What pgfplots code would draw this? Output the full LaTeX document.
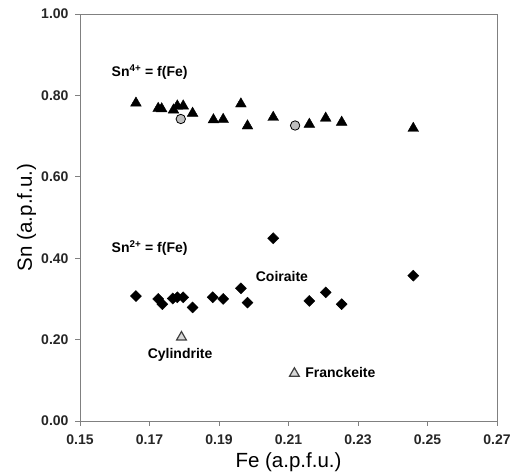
\documentclass[border=0pt]{standalone}
\usepackage{pgfplots}
\pgfplotsset{compat=1.18}
\usepackage{fontspec}
\setmainfont{Liberation Sans}
\usetikzlibrary{calc}

\definecolor{axgray}{RGB}{128,128,128}
\definecolor{ptgray}{RGB}{190,190,190}

\begin{document}
\begin{tikzpicture}
\begin{axis}[
    scale only axis,
    width=417pt, height=407pt,
    xmin=0.15, xmax=0.27,
    ymin=0, ymax=1.0,
    xtick={0.15,0.17,0.19,0.21,0.23,0.25,0.27},
    xticklabels={0.15,0.17,0.19,0.21,0.23,0.25,0.27},
    ytick={0,0.2,0.4,0.6,0.8,1.0},
    yticklabels={0.00,0.20,0.40,0.60,0.80,1.00},
    xtick pos=bottom, ytick pos=left,
    tick align=outside,
    major tick length=5pt,
    axis line style={axgray, line width=0.9pt},
    every tick/.style={axgray, line width=0.9pt},
    tick label style={font=\bfseries\fontsize{14}{16}\selectfont, text=black!85},
    xticklabel style={yshift=-5pt},
    yticklabel style={xshift=-3pt},
    clip=false,
]
% Sn4+ (filled triangles)
\addplot[only marks, mark=triangle*, mark size=6.2pt, mark options={fill=black, draw=black}] coordinates {
    (0.1661,0.781) (0.1725,0.768) (0.1735,0.767) (0.1769,0.764)
    (0.1780,0.774) (0.1797,0.774) (0.1824,0.756) (0.1884,0.740)
    (0.1912,0.741) (0.1963,0.779) (0.1982,0.725) (0.2056,0.746)
    (0.2160,0.729) (0.2207,0.744) (0.2253,0.734) (0.2459,0.719)
};
% Sn2+ (filled diamonds)
\addplot[only marks, mark=square*, mark size=3.9pt, mark options={fill=black, draw=black, rotate=45}] coordinates {
    (0.1661,0.307) (0.1725,0.300) (0.1737,0.287) (0.1767,0.301)
    (0.1780,0.304) (0.1797,0.304) (0.1824,0.279) (0.1882,0.304)
    (0.1912,0.300) (0.1963,0.326) (0.1982,0.291) (0.2056,0.449)
    (0.2160,0.295) (0.2207,0.316) (0.2253,0.287) (0.2459,0.357)
};
% gray circles
\addplot[only marks, mark=*, mark size=4.7pt, mark options={fill=ptgray, draw=black, line width=0.8pt}] coordinates {
    (0.1790,0.742) (0.2119,0.726)
};
% open triangles (cylindrite, franckeite)
\addplot[only marks, mark=triangle*, mark size=5.6pt, mark options={fill=ptgray!60, draw=black!75, line width=1.2pt}] coordinates {
    (0.1792,0.206) (0.2117,0.117)
};
\node[anchor=west, font=\bfseries\fontsize{14}{16}\selectfont] at (axis cs:0.1581,0.857) {Sn\textsuperscript{4+} = f(Fe)};
\node[anchor=west, font=\bfseries\fontsize{14}{16}\selectfont] at (axis cs:0.1581,0.425) {Sn\textsuperscript{2+} = f(Fe)};
\node[anchor=center, font=\bfseries\fontsize{14}{16}\selectfont] at (axis cs:0.2081,0.356) {Coiraite};
\node[anchor=center, font=\bfseries\fontsize{14}{16}\selectfont] at (axis cs:0.1788,0.162) {Cylindrite};
\node[anchor=west, font=\bfseries\fontsize{14}{16}\selectfont, inner sep=0pt] at (axis cs:0.2148,0.118) {Franckeite};
% axis labels
\node[anchor=base, inner sep=0pt, font=\fontsize{20.5}{22}\selectfont] at ([yshift=-47pt]rel axis cs:0.5,0) {Fe (a.p.f.u.)};
\node[anchor=base, inner sep=0pt, rotate=90, font=\fontsize{20.5}{22}\selectfont] at ([xshift=-48pt]rel axis cs:0,0.5) {Sn (a.p.f.u.)};
\end{axis}
\pgfresetboundingbox
\path ($(current axis.south west)+(-80pt,-54pt)$) rectangle ($(current axis.north east)+(16pt,14pt)$);
\end{tikzpicture}
\end{document}
